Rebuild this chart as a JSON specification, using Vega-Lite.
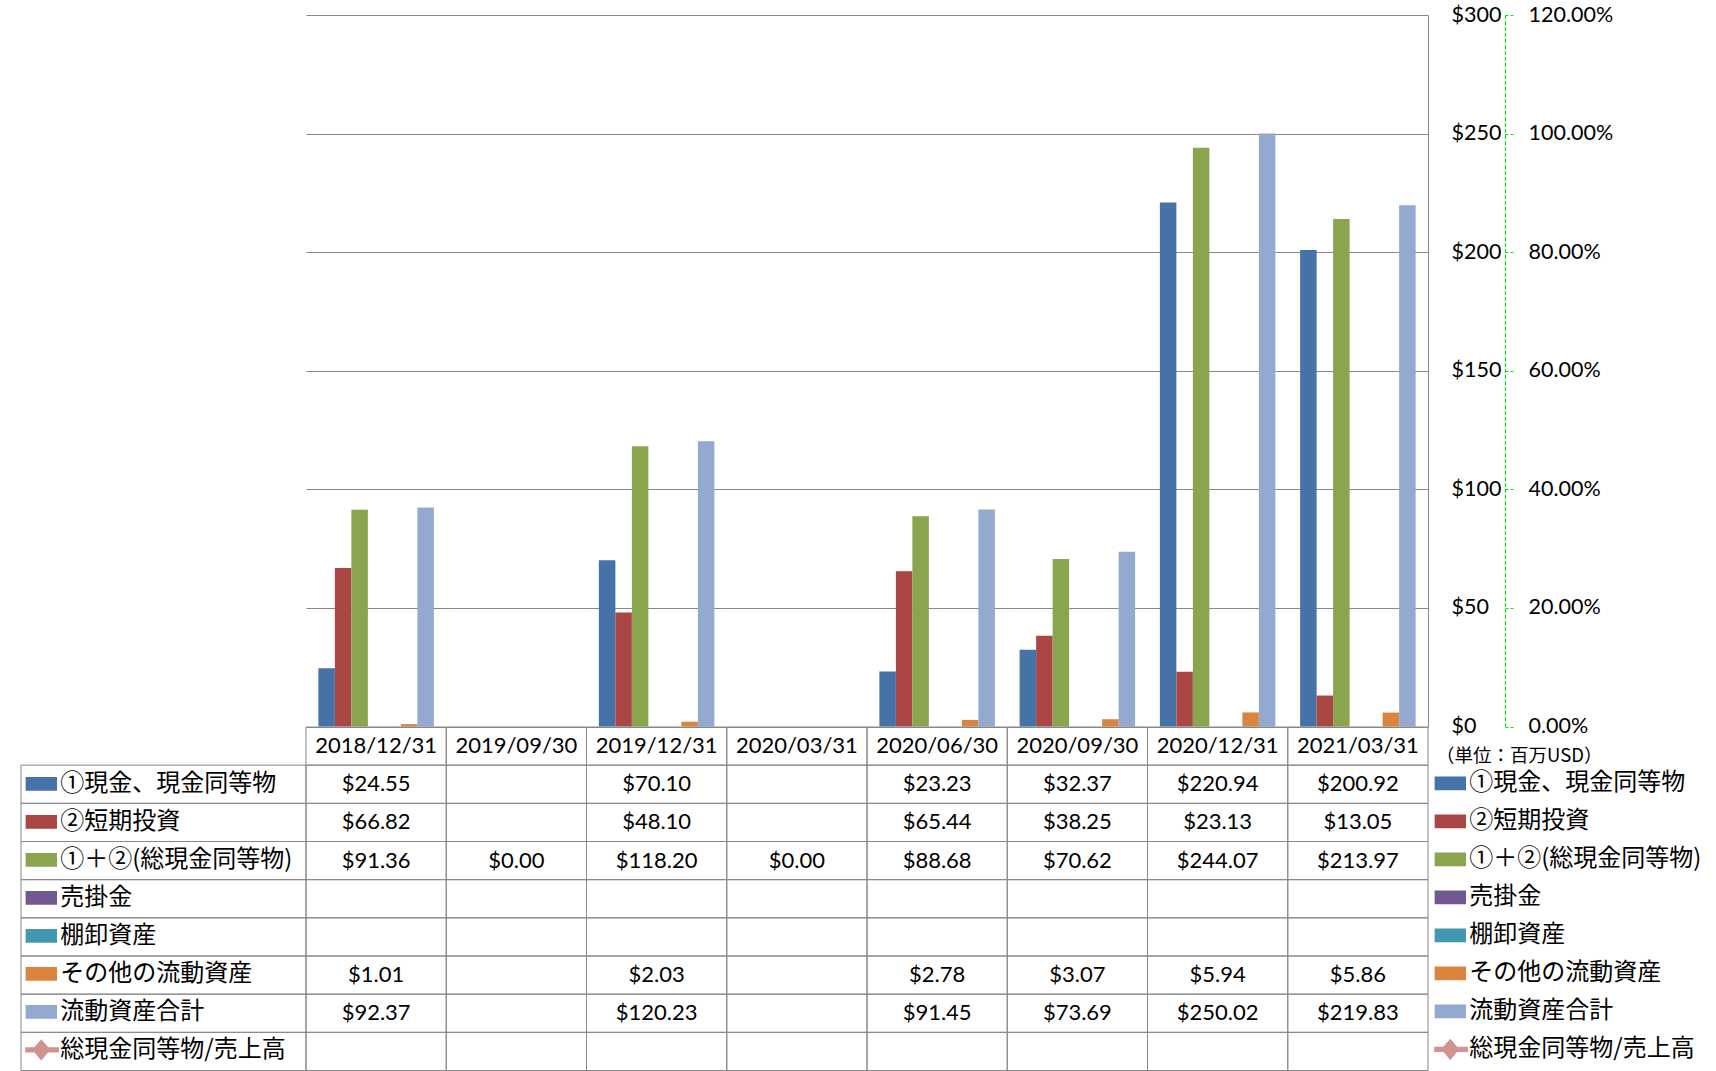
{
  "$schema": "https://vega.github.io/schema/vega-lite/v6.json",
  "background": "white",
  "padding": {"left": 20, "top": 4, "right": 0, "bottom": 0},
  "columns": 2,
  "spacing": 0,
  "bounds": "flush",
  "resolve": {
    "scale": {"x": "independent", "y": "independent", "color": "independent"},
    "legend": {"color": "independent"}
  },
  "config": {
    "view": {"stroke": null},
    "font": "Lato"
  },
  "datasets": {
    "main": [
      {"date": "2018/12/31", "series": "①現金、現金同等物", "value": 24.55},
      {"date": "2018/12/31", "series": "②短期投資", "value": 66.82},
      {"date": "2018/12/31", "series": "①＋②(総現金同等物)", "value": 91.36},
      {"date": "2018/12/31", "series": "売掛金", "value": null},
      {"date": "2018/12/31", "series": "棚卸資産", "value": null},
      {"date": "2018/12/31", "series": "その他の流動資産", "value": 1.01},
      {"date": "2018/12/31", "series": "流動資産合計", "value": 92.37},
      {"date": "2018/12/31", "series": "総現金同等物/売上高", "value": null},
      {"date": "2019/09/30", "series": "①現金、現金同等物", "value": null},
      {"date": "2019/09/30", "series": "②短期投資", "value": null},
      {"date": "2019/09/30", "series": "①＋②(総現金同等物)", "value": 0},
      {"date": "2019/09/30", "series": "売掛金", "value": null},
      {"date": "2019/09/30", "series": "棚卸資産", "value": null},
      {"date": "2019/09/30", "series": "その他の流動資産", "value": null},
      {"date": "2019/09/30", "series": "流動資産合計", "value": null},
      {"date": "2019/09/30", "series": "総現金同等物/売上高", "value": null},
      {"date": "2019/12/31", "series": "①現金、現金同等物", "value": 70.10},
      {"date": "2019/12/31", "series": "②短期投資", "value": 48.10},
      {"date": "2019/12/31", "series": "①＋②(総現金同等物)", "value": 118.20},
      {"date": "2019/12/31", "series": "売掛金", "value": null},
      {"date": "2019/12/31", "series": "棚卸資産", "value": null},
      {"date": "2019/12/31", "series": "その他の流動資産", "value": 2.03},
      {"date": "2019/12/31", "series": "流動資産合計", "value": 120.23},
      {"date": "2019/12/31", "series": "総現金同等物/売上高", "value": null},
      {"date": "2020/03/31", "series": "①現金、現金同等物", "value": null},
      {"date": "2020/03/31", "series": "②短期投資", "value": null},
      {"date": "2020/03/31", "series": "①＋②(総現金同等物)", "value": 0},
      {"date": "2020/03/31", "series": "売掛金", "value": null},
      {"date": "2020/03/31", "series": "棚卸資産", "value": null},
      {"date": "2020/03/31", "series": "その他の流動資産", "value": null},
      {"date": "2020/03/31", "series": "流動資産合計", "value": null},
      {"date": "2020/03/31", "series": "総現金同等物/売上高", "value": null},
      {"date": "2020/06/30", "series": "①現金、現金同等物", "value": 23.23},
      {"date": "2020/06/30", "series": "②短期投資", "value": 65.44},
      {"date": "2020/06/30", "series": "①＋②(総現金同等物)", "value": 88.68},
      {"date": "2020/06/30", "series": "売掛金", "value": null},
      {"date": "2020/06/30", "series": "棚卸資産", "value": null},
      {"date": "2020/06/30", "series": "その他の流動資産", "value": 2.78},
      {"date": "2020/06/30", "series": "流動資産合計", "value": 91.45},
      {"date": "2020/06/30", "series": "総現金同等物/売上高", "value": null},
      {"date": "2020/09/30", "series": "①現金、現金同等物", "value": 32.37},
      {"date": "2020/09/30", "series": "②短期投資", "value": 38.25},
      {"date": "2020/09/30", "series": "①＋②(総現金同等物)", "value": 70.62},
      {"date": "2020/09/30", "series": "売掛金", "value": null},
      {"date": "2020/09/30", "series": "棚卸資産", "value": null},
      {"date": "2020/09/30", "series": "その他の流動資産", "value": 3.07},
      {"date": "2020/09/30", "series": "流動資産合計", "value": 73.69},
      {"date": "2020/09/30", "series": "総現金同等物/売上高", "value": null},
      {"date": "2020/12/31", "series": "①現金、現金同等物", "value": 220.94},
      {"date": "2020/12/31", "series": "②短期投資", "value": 23.13},
      {"date": "2020/12/31", "series": "①＋②(総現金同等物)", "value": 244.07},
      {"date": "2020/12/31", "series": "売掛金", "value": null},
      {"date": "2020/12/31", "series": "棚卸資産", "value": null},
      {"date": "2020/12/31", "series": "その他の流動資産", "value": 5.94},
      {"date": "2020/12/31", "series": "流動資産合計", "value": 250.02},
      {"date": "2020/12/31", "series": "総現金同等物/売上高", "value": null},
      {"date": "2021/03/31", "series": "①現金、現金同等物", "value": 200.92},
      {"date": "2021/03/31", "series": "②短期投資", "value": 13.05},
      {"date": "2021/03/31", "series": "①＋②(総現金同等物)", "value": 213.97},
      {"date": "2021/03/31", "series": "売掛金", "value": null},
      {"date": "2021/03/31", "series": "棚卸資産", "value": null},
      {"date": "2021/03/31", "series": "その他の流動資産", "value": 5.86},
      {"date": "2021/03/31", "series": "流動資産合計", "value": 219.83},
      {"date": "2021/03/31", "series": "総現金同等物/売上高", "value": null}
    ]
  },
  "concat": [
    {
      "width": 285,
      "height": 711.5,
      "data": {"values": []},
      "mark": "rect"
    },
    {
      "width": 1122,
      "height": 711.5,
      "data": {"name": "main"},
      "layer": [
        {
          "transform": [{"filter": "datum.series !== '総現金同等物/売上高' && isValid(datum.value)"}],
          "mark": {"type": "bar"},
          "encoding": {
            "x": {
              "field": "date", "type": "nominal", "sort": null, "axis": null,
              "scale": {"domain": ["2018/12/31", "2019/09/30", "2019/12/31", "2020/03/31", "2020/06/30", "2020/09/30", "2020/12/31", "2021/03/31"], "paddingInner": 0, "paddingOuter": 0}
            },
            "xOffset": {
              "field": "series", "type": "nominal", "sort": null,
              "scale": {"domain": ["①現金、現金同等物", "②短期投資", "①＋②(総現金同等物)", "売掛金", "棚卸資産", "その他の流動資産", "流動資産合計"], "paddingInner": 0, "paddingOuter": 0.75}
            },
            "y": {
              "field": "value", "type": "quantitative",
              "scale": {"domain": [0, 300], "nice": false},
              "axis": {
                "orient": "right",
                "values": [0, 50, 100, 150, 200, 250, 300],
                "format": "$,.0f",
                "grid": true, "gridColor": "#888888", "gridWidth": 1,
                "domain": true, "domainColor": "#888888", "domainWidth": 1,
                "ticks": false, "tickSize": 0,
                "labelPadding": 23, "labelAlign": "left", "labelBaseline": "middle",
                "labelFont": "Lato", "labelFontSize": 21.5, "labelColor": "#000000",
                "labelFlush": false, "labelOverlap": false,
                "title": "（単位：百万USD）",
                "titleAngle": 0, "titleAlign": "left", "titleBaseline": "middle",
                "titleX": 7.5, "titleY": 740.5,
                "titleFont": "Noto Sans CJK JP", "titleFontSize": 18.5, "titleFontWeight": "normal", "titleColor": "#000000"
              }
            },
            "color": {
              "field": "series", "type": "nominal", "sort": null,
              "scale": {
                "domain": ["①現金、現金同等物", "②短期投資", "①＋②(総現金同等物)", "売掛金", "棚卸資産", "その他の流動資産", "流動資産合計", "総現金同等物/売上高"],
                "range": ["#4572A7", "#AA4643", "#89A54E", "#71588F", "#4198AF", "#DB843D", "#93A9CF", "#D19392"]
              },
              "legend": {
                "orient": "none", "legendX": 1128.25, "legendY": 749.67,
                "title": null, "direction": "vertical", "padding": 0, "rowPadding": 0,
                "clipHeight": 37.39,
                "symbolType": "M-1,-0.44H1V0.44H-1Z", "symbolSize": 992, "symbolOffset": 0,
                "symbolStrokeWidth": 0, "symbolOpacity": 1,
                "labelOffset": 3, "labelFont": "Noto Sans CJK JP", "labelFontSize": 24,
                "labelColor": "#000000", "labelLimit": 600, "labelBaseline": "middle",
                "encode": {
                  "symbols": {
                    "update": {
                      "shape": {"signal": "datum.value === '総現金同等物/売上高' ? 'M-1.12,-0.16H1.12V0.16H-1.12Z M0,-0.68L0.58,0L0,0.68L-0.58,0Z' : 'M-1,-0.44H1V0.44H-1Z'"},
                      "opacity": {"value": 1}
                    }
                  }
                }
              }
            }
          }
        },
        {
          "transform": [{"filter": "datum.series === '総現金同等物/売上高'"}],
          "mark": {"type": "line", "color": "#D19392", "strokeWidth": 3},
          "encoding": {
            "x": {
              "field": "date", "type": "nominal", "sort": null, "axis": null,
              "scale": {"domain": ["2018/12/31", "2019/09/30", "2019/12/31", "2020/03/31", "2020/06/30", "2020/09/30", "2020/12/31", "2021/03/31"], "paddingInner": 0, "paddingOuter": 0}
            },
            "y": {
              "field": "value", "type": "quantitative",
              "scale": {"domain": [0, 1.2], "nice": false},
              "axis": {
                "orient": "right", "offset": 77,
                "values": [0, 0.2, 0.4, 0.6, 0.8, 1, 1.2],
                "format": ".2%",
                "grid": false,
                "domain": true, "domainColor": "#00EE00", "domainDash": [4, 2], "domainWidth": 1,
                "ticks": true, "tickColor": "#00EE00", "tickDash": [3, 2], "tickSize": 8, "tickWidth": 1,
                "labelPadding": 15, "labelAlign": "left", "labelBaseline": "middle",
                "labelFont": "Lato", "labelFontSize": 21.5, "labelColor": "#000000",
                "labelFlush": false, "labelOverlap": false,
                "title": null
              }
            }
          }
        }
      ],
      "resolve": {"scale": {"y": "independent"}}
    },
    {
      "width": 285,
      "height": 343.5,
      "data": {"name": "main"},
      "transform": [{"filter": "datum.date === '2018/12/31'"}],
      "layer": [
        {
          "mark": {"type": "rect", "fill": "transparent", "stroke": "#888888", "strokeWidth": 1},
          "encoding": {
            "y": {
              "field": "series", "type": "nominal", "sort": null, "axis": null,
              "scale": {"domain": ["header", "①現金、現金同等物", "②短期投資", "①＋②(総現金同等物)", "売掛金", "棚卸資産", "その他の流動資産", "流動資産合計", "総現金同等物/売上高"], "paddingInner": 0, "paddingOuter": 0}
            }
          }
        },
        {
          "mark": {"type": "rect", "opacity": 0},
          "encoding": {
            "y": {
              "field": "series", "type": "nominal", "sort": null, "axis": null,
              "scale": {"domain": ["header", "①現金、現金同等物", "②短期投資", "①＋②(総現金同等物)", "売掛金", "棚卸資産", "その他の流動資産", "流動資産合計", "総現金同等物/売上高"], "paddingInner": 0, "paddingOuter": 0}
            },
            "color": {
              "field": "series", "type": "nominal", "sort": null,
              "scale": {
                "domain": ["①現金、現金同等物", "②短期投資", "①＋②(総現金同等物)", "売掛金", "棚卸資産", "その他の流動資産", "流動資産合計", "総現金同等物/売上高"],
                "range": ["#4572A7", "#AA4643", "#89A54E", "#71588F", "#4198AF", "#DB843D", "#93A9CF", "#D19392"]
              },
              "legend": {
                "orient": "none", "legendX": 4.25, "legendY": 38.17,
                "title": null, "direction": "vertical", "padding": 0, "rowPadding": 0,
                "clipHeight": 37.39,
                "symbolType": "M-1,-0.44H1V0.44H-1Z", "symbolSize": 992, "symbolOffset": 0,
                "symbolStrokeWidth": 0, "symbolOpacity": 1,
                "labelOffset": 3, "labelFont": "Noto Sans CJK JP", "labelFontSize": 24,
                "labelColor": "#000000", "labelLimit": 600, "labelBaseline": "middle",
                "encode": {
                  "symbols": {
                    "update": {
                      "shape": {"signal": "datum.value === '総現金同等物/売上高' ? 'M-1.12,-0.16H1.12V0.16H-1.12Z M0,-0.68L0.58,0L0,0.68L-0.58,0Z' : 'M-1,-0.44H1V0.44H-1Z'"},
                      "opacity": {"value": 1},
                      "fillOpacity": {"value": 1}
                    }
                  }
                }
              }
            }
          }
        }
      ]
    },
    {
      "width": 1122,
      "height": 343.5,
      "data": {"name": "main"},
      "encoding": {
        "x": {
          "field": "date", "type": "nominal", "sort": null, "axis": null,
          "scale": {"domain": ["2018/12/31", "2019/09/30", "2019/12/31", "2020/03/31", "2020/06/30", "2020/09/30", "2020/12/31", "2021/03/31"], "paddingInner": 0, "paddingOuter": 0}
        }
      },
      "layer": [
        {
          "mark": {"type": "rect", "fill": "transparent", "stroke": "#888888", "strokeWidth": 1},
          "encoding": {
            "y": {
              "field": "series", "type": "nominal", "sort": null, "axis": null,
              "scale": {"domain": ["header", "①現金、現金同等物", "②短期投資", "①＋②(総現金同等物)", "売掛金", "棚卸資産", "その他の流動資産", "流動資産合計", "総現金同等物/売上高"], "paddingInner": 0, "paddingOuter": 0}
            }
          }
        },
        {
          "transform": [{"filter": "datum.series === '①現金、現金同等物'"}],
          "mark": {"type": "rect", "fill": "transparent", "stroke": "#888888", "strokeWidth": 1},
          "encoding": {
            "y": {"datum": "header", "type": "nominal", "axis": null}
          }
        },
        {
          "transform": [{"filter": "datum.series === '①現金、現金同等物'"}],
          "mark": {"type": "text", "font": "Lato", "fontSize": 22, "color": "#000000", "baseline": "middle", "align": "center"},
          "encoding": {
            "y": {"datum": "header", "type": "nominal", "axis": null},
            "text": {"field": "date", "type": "nominal"}
          }
        },
        {
          "transform": [{"filter": "isValid(datum.value)"}],
          "mark": {"type": "text", "font": "Lato", "fontSize": 22, "color": "#000000", "baseline": "middle", "align": "center"},
          "encoding": {
            "y": {"field": "series", "type": "nominal", "sort": null, "axis": null},
            "text": {"field": "value", "type": "quantitative", "format": "$,.2f"}
          }
        }
      ]
    }
  ]
}
